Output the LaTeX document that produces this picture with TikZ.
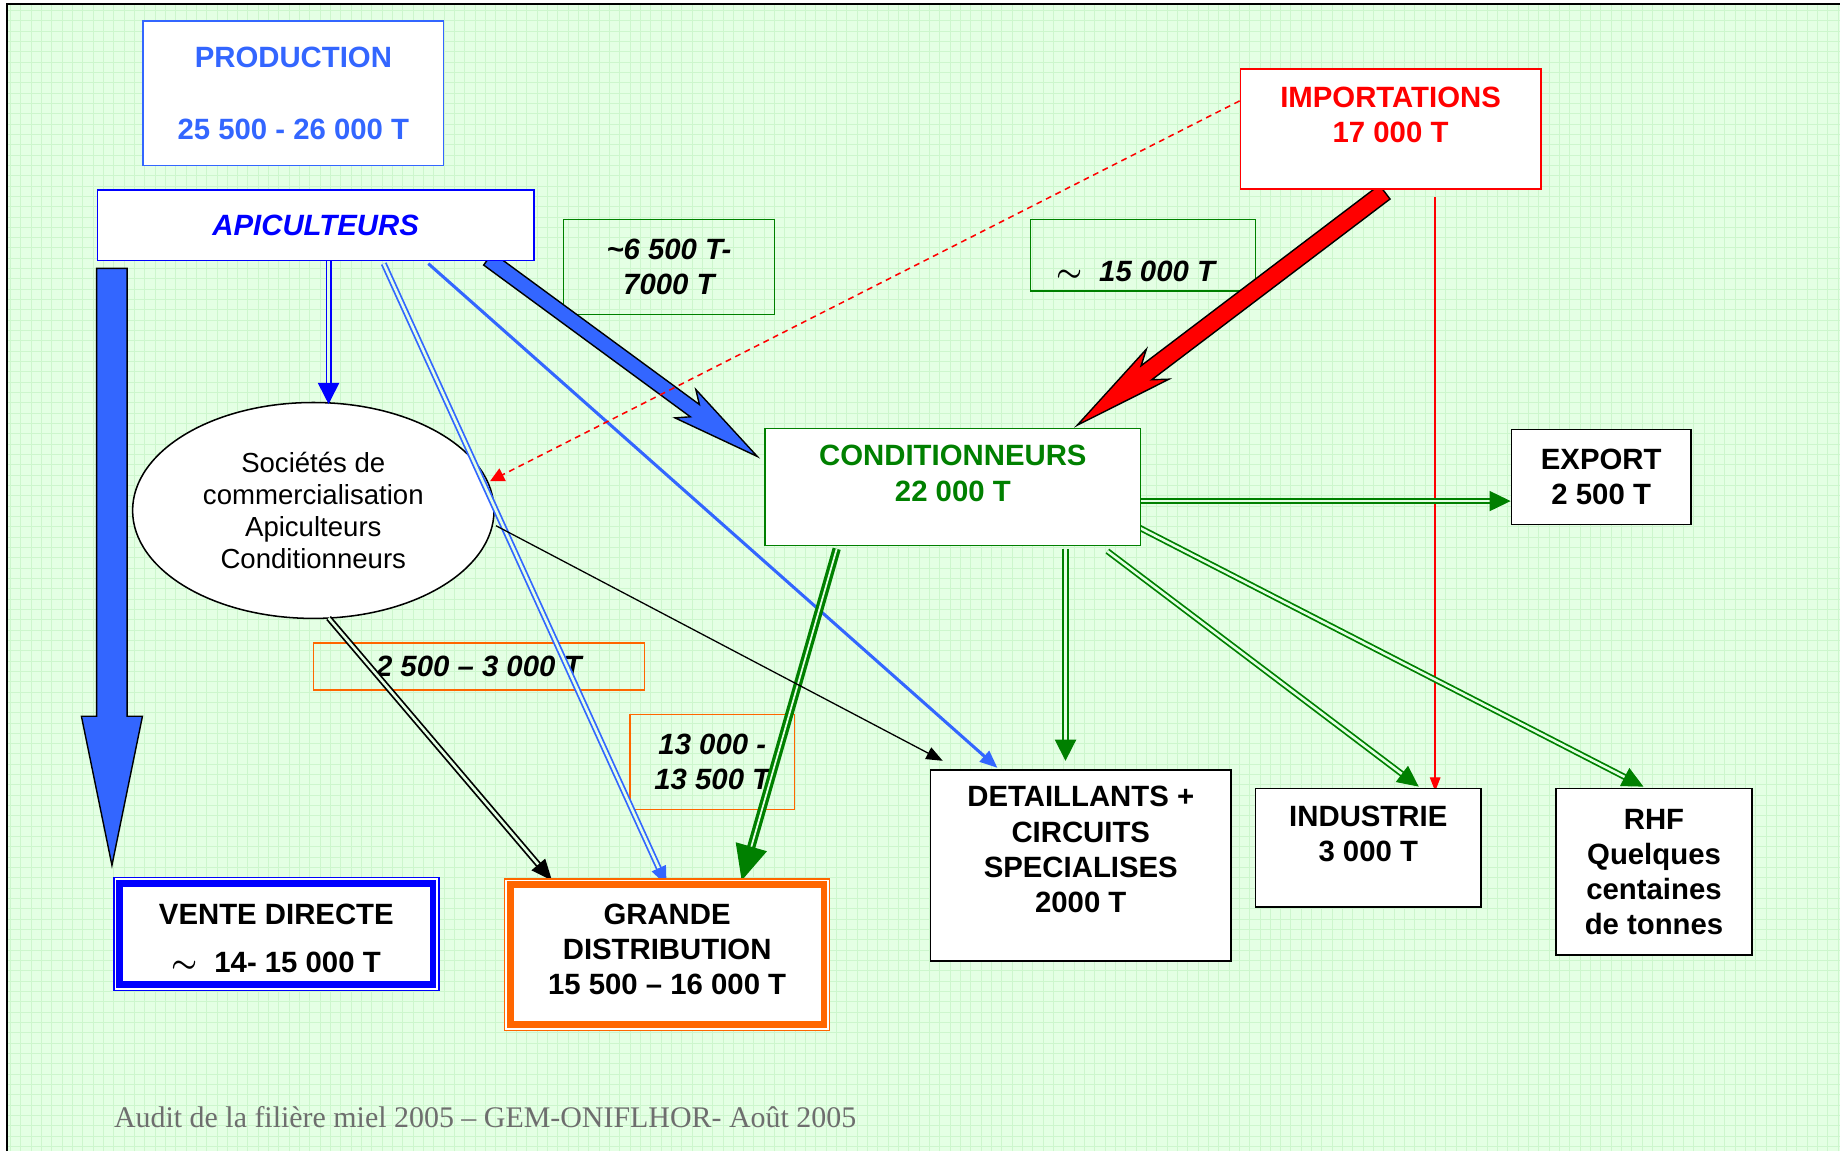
\documentclass[tikz,border=0pt]{standalone}
\usepackage{fontspec}
\usepackage{bm}
\setmainfont{Liberation Sans}
\newfontfamily\footfont{Liberation Serif}
\usetikzlibrary{arrows.meta,calc,shapes.geometric}
\definecolor{bgc}{RGB}{228,255,228}
\definecolor{gridc}{RGB}{205,246,205}
\definecolor{lblue}{RGB}{51,102,255}
\definecolor{dblue}{RGB}{0,0,255}
\definecolor{dgreen}{RGB}{0,128,0}
\definecolor{orng}{RGB}{255,102,0}
\definecolor{footc}{RGB}{110,110,110}
\pgfdeclarelayer{bglayer}
\pgfdeclarelayer{lablayer}
\pgfdeclarelayer{connlayer}
\pgfsetlayers{bglayer,lablayer,connlayer,main}
\newcommand\bigtilde{{\fontsize{36}{30}\selectfont$\bm{\sim}$}}
% block arrow: name, style, start, tip, shaft half, head half, head length, barb length
\newcommand\blockarrow[8]{%
  \coordinate (#1-h) at ($(#4)!#7!(#3)$);
  \coordinate (#1-b) at ($(#4)!#8!(#3)$);
  \draw[#2] ($(#3)!#5!90:(#4)$) -- ($(#1-h)!#5!90:(#4)$) -- ($(#1-b)!#6!90:(#4)$) -- (#4)
    -- ($(#1-b)!#6!-90:(#4)$) -- ($(#1-h)!#5!-90:(#4)$) -- ($(#3)!#5!-90:(#4)$) -- cycle;}
\begin{document}
\begin{tikzpicture}[x=1pt,y=-1pt,
  bigfont/.style={font=\bfseries\fontsize{25}{30}\selectfont},
  box/.style={draw, fill=white, rectangle, inner sep=0pt, line width=1.3pt, align=center, bigfont},
  txt/.style={align=center, inner sep=0pt, bigfont},
  tagbox/.style={draw=dgreen, rectangle, inner sep=0pt, line width=1.2pt, align=center,
     font=\bfseries\itshape\fontsize{25}{30}\selectfont},
  ellbox/.style={ellipse, draw, fill=white, line width=1.3pt, inner sep=0pt, align=center,
     minimum width=308pt, minimum height=184pt, font=\fontsize{23.5}{27}\selectfont},
  dbl/.style={line width=1.5pt, double distance=2.2pt, double=bgc},
  blk/.style={draw=black, line width=1.2pt, line join=miter}]
\useasboundingbox (0,0) rectangle (1568,981);
\begin{pgfonlayer}{bglayer}
  \fill[white] (0,0) rectangle (1568,981);
  \fill[bgc] (6,4) rectangle (1568,981);
  \draw[gridc, line width=0.6pt, step=8.8pt] (6,981) grid (1568,4);
  \draw[line width=1.5pt] (6,981) -- (6,3.5) -- (1568,3.5);
\end{pgfonlayer}

% main boxes
\node[box, draw=lblue, text=lblue, minimum width=256pt, minimum height=123pt] (prod) at (250,79.5)
  {PRODUCTION\\[32pt]25 500 - 26 000 T};
\node[box, draw=dblue, text=dblue, font=\bfseries\itshape\fontsize{25}{30}\selectfont,
  minimum width=372pt, minimum height=60pt] (apic) at (269,192) {APICULTEURS};
\node[box, draw=red, minimum width=256pt, minimum height=102pt,
  label={[txt, text=red, yshift=12pt]center:{IMPORTATIONS\\17 000 T}}] (imp) at (1185,110) {};
\node[box, draw=dgreen, minimum width=320pt, minimum height=100pt,
  label={[txt, text=dgreen, yshift=11.5pt]center:{CONDITIONNEURS\\22 000 T}}] (cond) at (812,415) {};
\node[box, minimum width=153pt, minimum height=81pt] (exp) at (1364.5,406.5) {EXPORT\\2 500 T};
\node[box, minimum width=256pt, minimum height=163pt,
  label={[txt, yshift=13.5pt]center:{DETAILLANTS +\\CIRCUITS\\SPECIALISES\\2000 T}}] (det) at (921,737.5) {};
\node[box, minimum width=192pt, minimum height=101pt,
  label={[txt, yshift=12pt]center:{INDUSTRIE\\3 000 T}}] (ind) at (1166,722.5) {};
\node[box, minimum width=167pt, minimum height=142pt] (rhf) at (1409.5,743)
  {RHF\\Quelques\\centaines\\de tonnes};
\node[box, draw=dblue, line width=1.2pt, minimum width=277pt, minimum height=96pt,
  label={[txt, yshift=-3.5pt]center:{VENTE DIRECTE\\[11pt]\bigtilde\ \ 14- 15 000 T}}] (vd) at (235.5,796) {};
\draw[dblue, line width=5.6pt] ($(vd.north west)+(5.5,5.5)$) rectangle ($(vd.south east)+(-5.5,-5.5)$);
\node[box, draw=orng, line width=1.2pt, minimum width=277pt, minimum height=129pt,
  label={[txt, yshift=4.5pt]center:{GRANDE\\DISTRIBUTION\\15 500 – 16 000 T}}] (gd) at (568.5,813.5) {};
\draw[orng, line width=5.6pt] ($(gd.north west)+(5.5,5.5)$) rectangle ($(gd.south east)+(-5.5,-5.5)$);

\node[anchor=west, inner sep=0pt, text=footc, font=\footfont\fontsize{25.5}{30}\selectfont] (foot)
  at (97,952) {Audit de la filière miel 2005 – GEM-ONIFLHOR- Août 2005};

% transparent tag boxes and ellipse
\begin{pgfonlayer}{lablayer}
  \node[tagbox, minimum width=180pt, minimum height=81pt] (t1) at (570,227.5)
    {\textasciitilde 6 500 T-\\7000 T};
  \node[tagbox, minimum width=192pt, minimum height=61pt,
    label={[txt, font=\bfseries\itshape\fontsize{25}{30}\selectfont, xshift=-6pt, yshift=-13.5pt]center:{\bigtilde\ \ 15 000 T}}]
    (t2) at (974,217.5) {};
  \node[tagbox, draw=orng, minimum width=282pt, minimum height=40pt] (t3) at (408,568) {2 500 – 3 000 T};
  \node[tagbox, draw=orng, minimum width=140pt, minimum height=81pt] (t4) at (607,649.5) {13 000 -\\13 500 T};
  \node[ellbox] (soc) at (267,435) {Sociétés de\\commercialisation\\Apiculteurs\\Conditionneurs};
\end{pgfonlayer}

% connectors
\begin{pgfonlayer}{connlayer}
  \coordinate (a1) at ($(apic.south west)+(13,6)$);
  \coordinate (a2) at ($(vd.north west)+(-1,-10)$);
  \blockarrow{ba}{blk, fill=lblue}{a1}{a2}{13pt}{26pt}{127pt}{127pt}
  \coordinate (e1) at ($(apic.south)+(147,-2)$);
  \coordinate (e2) at ($(cond.west)+(-6,-26)$);
  \blockarrow{be}{blk, fill=lblue}{e1}{e2}{6.5pt}{15pt}{66pt}{76pt}
  \coordinate (f1) at ($(imp.south)+(-5,2)$);
  \coordinate (f2) at ($(cond.north)+(106,-2)$);
  \blockarrow{bf}{blk, fill=red}{f1}{f2}{7.5pt}{16pt}{74pt}{86pt}

  \draw[dbl, draw=dblue, -{Triangle[length=18pt,width=18pt]}] ($(apic.south)+(11,0)$) -- ($(soc.north)+(13,2)$);
  \draw[dbl, draw=lblue, -{Triangle[length=16pt,width=13pt]}] ($(apic.south)+(58,2)$) -- ($(gd.north)+(-0.5,6)$);
  \draw[lblue, line width=2.6pt, -{Triangle[length=15pt,width=12pt]}] ($(apic.south)+(96,2)$) -- ($(det.north)+(-71,-1)$);
  \draw[red, line width=1.3pt, dash pattern=on 5pt off 4pt, -{Triangle[length=12pt,width=12pt]}]
    ($(imp.west)+(0,-24)$) -- ($(soc.east)+(-4,-25)$);
  \draw[red, line width=1.2pt, -{Triangle[length=12pt,width=9pt]}] ($(imp.south)+(38,6)$) -- ($(ind.north)+(57,3)$);
  \draw[dbl, draw=dgreen, -{Triangle[length=18pt,width=17pt]}] ($(cond.east)+(-4,12)$) -- ($(exp.west)+(0,20.5)$);
  \draw[dbl, draw=dgreen, line width=2.8pt, double distance=1.5pt, -{Triangle[length=30pt,width=27pt]}]
    ($(cond.south)+(-99,2)$) -- ($(gd.north)+(63.5,2)$);
  \draw[dbl, draw=dgreen, -{Triangle[length=18pt,width=18pt]}] ($(cond.south)+(96,2)$) -- ($(det.north)+(-13,-7)$);
  \draw[dbl, draw=dgreen, -{Triangle[length=18pt,width=17pt]}] ($(cond.south east)+(-29,4)$) -- ($(ind.north)+(43,-1)$);
  \draw[dbl, draw=dgreen, -{Triangle[length=18pt,width=17pt]}] ($(cond.east)+(-3,34)$) -- ($(rhf.north)+(-9,-1)$);
  \draw[dbl, draw=black, -{Triangle[length=18pt,width=15pt]}] ($(soc.south)+(13,-1)$) -- ($(gd.north west)+(41,2)$);
  \draw[black, line width=1.1pt, -{Triangle[length=14pt,width=11pt]}] ($(soc.east)+(1,13)$) -- ($(det.north west)+(11,-7)$);
\end{pgfonlayer}
\end{tikzpicture}
\end{document}
